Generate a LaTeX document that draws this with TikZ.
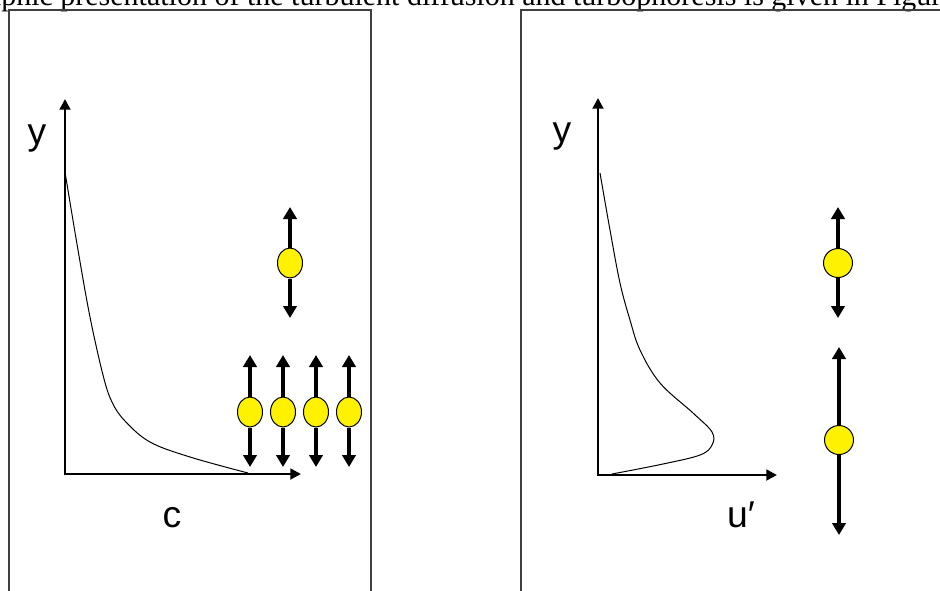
\documentclass[tikz,border=0pt]{standalone}
\usepackage{fontspec}
\setmainfont{Liberation Serif}
\newfontfamily\labelfont{Liberation Sans}
\usetikzlibrary{arrows.meta,shapes.geometric}

\begin{document}
\begin{tikzpicture}[x=0.75pt, y=-0.75pt,
  panel/.style={draw=black!75, line width=1.1pt},
  axes/.style={line width=2pt, {Triangle[length=8pt,width=8pt]}-{Triangle[length=8pt,width=8pt]}},
  jump/.style={line width=3.5pt, -{Triangle[length=9pt,width=10pt]}},
  particle/.style={ellipse, draw, line width=0.75pt, fill=yellow, inner sep=0pt},
  lbl/.style={font=\labelfont\fontsize{28}{34}\selectfont, anchor=base, inner sep=0pt}]
  \clip (0,0) rectangle (940,590);
  % running text cut by the top edge
  \node[anchor=base west, inner sep=0pt, font=\fontsize{22.5}{27}\selectfont] (txt) at (1,5)
    {\llap{gra}phic presentation of the turbulent diffusion and turbophoresis is given in Figure};
  % the two panels
  \draw[panel] (9,600) -- (9,10) -- (371,10) -- (371,600);
  \draw[panel] (521,600) -- (521,10) -- (950,10);

  % left: concentration profile
  \coordinate (ytip1) at (65,99);
  \coordinate (o1) at (65,474);
  \coordinate (xtip1) at (301,474);
  \draw[axes] (ytip1) -- (o1) -- (xtip1);
  \node[lbl] (ylab1) at (37,144) {y};
  \node[lbl] (clab) at (172,527) {c};
  \draw[line width=0.75pt] plot[smooth, tension=0.6] coordinates
    {(65,172) (78,250) (90,317) (103,375) (112,402) (125,421) (150,442) (190,457) (248,473)};
  % one particle far from the wall
  \node[particle, minimum width=18.75pt, minimum height=22.5pt] (p0) at (290,263) {};
  \coordinate (p0t) at (290,207);
  \coordinate (p0b) at (290,318);
  \draw[jump] (p0.north) -- (p0t);
  \draw[jump] (p0.south) -- (p0b);
  % many particles near the wall
  \foreach \i/\x in {1/250,2/283,3/316,4/349} {
    \node[particle, minimum width=18.75pt, minimum height=22.5pt] (p\i) at (\x,412) {};
    \coordinate (p\i t) at (\x,355);
    \coordinate (p\i b) at (\x,467);
    \draw[jump] (p\i.north) -- (p\i t);
    \draw[jump] (p\i.south) -- (p\i b);
  }

  % right: velocity fluctuation profile
  \coordinate (ytip2) at (598,98);
  \coordinate (o2) at (598,475);
  \coordinate (xtip2) at (777,475);
  \draw[axes] (ytip2) -- (o2) -- (xtip2);
  \node[lbl] (ylab2) at (562,142) {y};
  \node[lbl] (ulab) at (741,527) {u′};
  \draw[line width=0.75pt] plot[smooth, tension=0.6] coordinates
    {(600,173) (610,230) (620,283) (630,320) (640,350) (660,383) (693,413) (712,432) (712,445) (700,455) (663,464) (612,474)};
  % small and large excursions
  \node[particle, minimum size=21.75pt] (q1) at (838,263) {};
  \coordinate (q1t) at (838,207);
  \coordinate (q1b) at (838,318);
  \draw[jump] (q1.north) -- (q1t);
  \draw[jump] (q1.south) -- (q1b);
  \node[particle, minimum size=21.75pt] (q2) at (839,440) {};
  \coordinate (q2t) at (839,347);
  \coordinate (q2b) at (839,535);
  \draw[jump] (q2.north) -- (q2t);
  \draw[jump] (q2.south) -- (q2b);
\end{tikzpicture}
\end{document}
